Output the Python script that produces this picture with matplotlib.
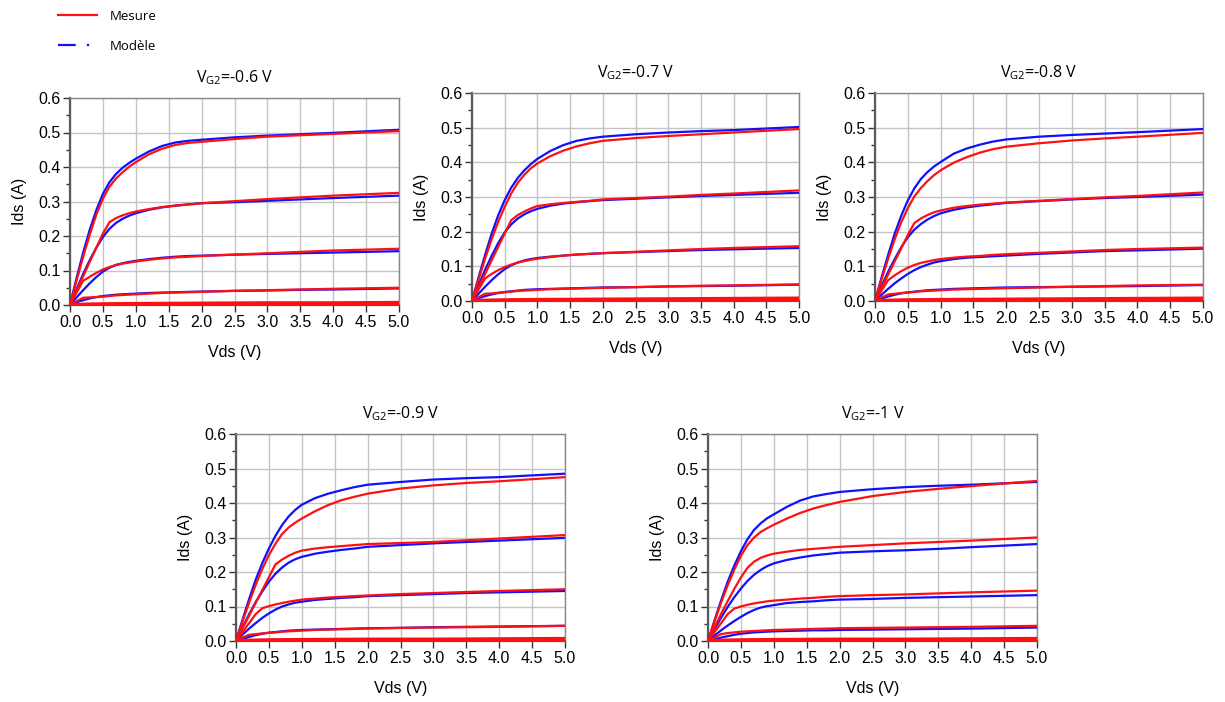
import matplotlib
matplotlib.use("Agg")
import matplotlib.pyplot as plt
from matplotlib.lines import Line2D
from matplotlib.ticker import MultipleLocator

plt.rcParams['font.family'] = ['Liberation Sans', 'DejaVu Sans']
plt.rcParams['mathtext.default'] = 'regular'

# ---------------- data ----------------
vds = [0, 0.1, 0.2, 0.3, 0.4, 0.5, 0.6, 0.7, 0.8, 0.9, 1.0,
       1.2, 1.4, 1.6, 1.8, 2.0, 2.5, 3.0, 3.5, 4.0, 5.0]
vds_small = [0, 0.2, 0.5, 1.0, 2.0, 3.0, 4.0, 5.0]

vg2_labels = ['-0.6', '-0.7', '-0.8', '-0.9', '-1']

# ---- VG2 = -0.6 V ----
meas_p06 = [
    [0, 0.071, 0.14, 0.204, 0.262, 0.308, 0.343, 0.367, 0.385, 0.401, 0.414, 0.437, 0.453, 0.464, 0.47, 0.473, 0.481, 0.488, 0.492, 0.496, 0.504],
    [0, 0.042, 0.083, 0.125, 0.166, 0.207, 0.24, 0.252, 0.26, 0.266, 0.271, 0.278, 0.284, 0.288, 0.291, 0.295, 0.301, 0.307, 0.312, 0.317, 0.325],
    [0, 0.036, 0.07, 0.082, 0.093, 0.103, 0.11, 0.116, 0.12, 0.123, 0.126, 0.131, 0.135, 0.138, 0.14, 0.142, 0.146, 0.150, 0.154, 0.158, 0.163],
    [0, 0.011, 0.021, 0.022, 0.023, 0.024, 0.026, 0.028, 0.029, 0.030, 0.031, 0.033, 0.035, 0.036, 0.037, 0.038, 0.041, 0.043, 0.045, 0.047, 0.050],
]
model_p06 = [
    [0, 0.078, 0.152, 0.218, 0.275, 0.322, 0.356, 0.38, 0.398, 0.412, 0.424, 0.445, 0.461, 0.471, 0.476, 0.479, 0.486, 0.491, 0.495, 0.499, 0.508],
    [0, 0.046, 0.09, 0.13, 0.166, 0.197, 0.221, 0.238, 0.25, 0.259, 0.266, 0.276, 0.283, 0.288, 0.292, 0.295, 0.298, 0.302, 0.306, 0.310, 0.317],
    [0, 0.022, 0.043, 0.063, 0.081, 0.097, 0.108, 0.116, 0.121, 0.125, 0.128, 0.133, 0.137, 0.140, 0.142, 0.143, 0.146, 0.148, 0.150, 0.152, 0.156],
    [0, 0.008, 0.014, 0.019, 0.023, 0.026, 0.028, 0.030, 0.031, 0.032, 0.033, 0.035, 0.036, 0.037, 0.038, 0.039, 0.041, 0.042, 0.044, 0.045, 0.048],
]
meas_small_p06 = [[0, 0.003, 0.004, 0.005, 0.006, 0.007, 0.007, 0.008],
                  [0, 0.001, 0.001, 0.001, 0.001, 0.002, 0.002, 0.002]]
model_small_p06 = [[0, 0.002, 0.003, 0.004, 0.004, 0.005, 0.005, 0.005]]

# ---- VG2 = -0.7 V ----
meas_p07 = [
    [0, 0.062, 0.122, 0.178, 0.228, 0.272, 0.31, 0.341, 0.364, 0.383, 0.397, 0.418, 0.434, 0.446, 0.455, 0.462, 0.470, 0.476, 0.481, 0.486, 0.496],
    [0, 0.039, 0.078, 0.117, 0.156, 0.195, 0.233, 0.248, 0.258, 0.267, 0.274, 0.279, 0.283, 0.286, 0.289, 0.293, 0.297, 0.301, 0.306, 0.310, 0.319],
    [0, 0.033, 0.065, 0.078, 0.089, 0.098, 0.105, 0.111, 0.115, 0.119, 0.122, 0.127, 0.131, 0.134, 0.136, 0.138, 0.142, 0.146, 0.150, 0.153, 0.158],
    [0, 0.011, 0.021, 0.022, 0.024, 0.025, 0.027, 0.029, 0.030, 0.031, 0.032, 0.034, 0.035, 0.036, 0.037, 0.038, 0.040, 0.042, 0.044, 0.045, 0.048],
]
model_p07 = [
    [0, 0.068, 0.133, 0.194, 0.247, 0.291, 0.327, 0.355, 0.377, 0.395, 0.41, 0.433, 0.45, 0.462, 0.469, 0.474, 0.481, 0.486, 0.490, 0.493, 0.502],
    [0, 0.046, 0.09, 0.13, 0.167, 0.198, 0.221, 0.238, 0.25, 0.259, 0.266, 0.275, 0.281, 0.285, 0.288, 0.291, 0.295, 0.299, 0.303, 0.306, 0.312],
    [0, 0.021, 0.041, 0.06, 0.077, 0.092, 0.103, 0.111, 0.117, 0.121, 0.124, 0.128, 0.131, 0.134, 0.136, 0.138, 0.141, 0.144, 0.147, 0.149, 0.153],
    [0, 0.008, 0.014, 0.019, 0.023, 0.026, 0.028, 0.030, 0.032, 0.033, 0.034, 0.035, 0.036, 0.037, 0.038, 0.039, 0.040, 0.042, 0.043, 0.044, 0.047],
]
meas_small_p07 = [[0, 0.003, 0.004, 0.005, 0.006, 0.007, 0.008, 0.009],
                  [0, 0.001, 0.001, 0.001, 0.001, 0.002, 0.002, 0.002]]
model_small_p07 = [[0, 0.002, 0.003, 0.004, 0.004, 0.005, 0.005, 0.005]]

# ---- VG2 = -0.8 V ----
meas_p08 = [
    [0, 0.062, 0.122, 0.178, 0.227, 0.268, 0.302, 0.326, 0.346, 0.363, 0.377, 0.399, 0.415, 0.428, 0.438, 0.445, 0.455, 0.463, 0.469, 0.474, 0.485],
    [0, 0.038, 0.076, 0.114, 0.152, 0.19, 0.225, 0.238, 0.248, 0.256, 0.261, 0.269, 0.274, 0.278, 0.281, 0.284, 0.289, 0.294, 0.299, 0.303, 0.313],
    [0, 0.03, 0.06, 0.074, 0.086, 0.096, 0.104, 0.11, 0.114, 0.118, 0.121, 0.125, 0.128, 0.13, 0.133, 0.135, 0.139, 0.143, 0.147, 0.150, 0.154],
    [0, 0.01, 0.019, 0.021, 0.023, 0.024, 0.026, 0.028, 0.029, 0.030, 0.031, 0.033, 0.034, 0.035, 0.036, 0.037, 0.039, 0.041, 0.043, 0.045, 0.047],
]
model_p08 = [
    [0, 0.068, 0.133, 0.194, 0.246, 0.29, 0.325, 0.352, 0.372, 0.388, 0.401, 0.425, 0.44, 0.451, 0.46, 0.466, 0.474, 0.479, 0.483, 0.487, 0.496],
    [0, 0.043, 0.084, 0.121, 0.155, 0.184, 0.206, 0.222, 0.235, 0.245, 0.253, 0.263, 0.27, 0.275, 0.279, 0.283, 0.288, 0.293, 0.297, 0.300, 0.307],
    [0, 0.018, 0.035, 0.051, 0.065, 0.078, 0.089, 0.098, 0.105, 0.111, 0.115, 0.121, 0.125, 0.127, 0.129, 0.131, 0.136, 0.140, 0.144, 0.146, 0.151],
    [0, 0.007, 0.013, 0.018, 0.022, 0.025, 0.027, 0.029, 0.031, 0.032, 0.033, 0.035, 0.036, 0.037, 0.038, 0.039, 0.040, 0.041, 0.042, 0.043, 0.046],
]
meas_small_p08 = [[0, 0.003, 0.004, 0.005, 0.006, 0.007, 0.008, 0.009],
                  [0, 0.001, 0.001, 0.001, 0.001, 0.002, 0.002, 0.002]]
model_small_p08 = [[0, 0.002, 0.003, 0.004, 0.004, 0.005, 0.005, 0.005]]

# ---- VG2 = -0.9 V ----
meas_p09 = [
    [0, 0.057, 0.112, 0.163, 0.209, 0.249, 0.282, 0.31, 0.329, 0.343, 0.355, 0.376, 0.394, 0.408, 0.418, 0.427, 0.442, 0.451, 0.458, 0.463, 0.475],
    [0, 0.037, 0.074, 0.111, 0.148, 0.185, 0.222, 0.236, 0.247, 0.256, 0.262, 0.268, 0.272, 0.275, 0.278, 0.281, 0.284, 0.287, 0.292, 0.297, 0.307],
    [0, 0.026, 0.052, 0.078, 0.095, 0.101, 0.106, 0.11, 0.114, 0.117, 0.12, 0.123, 0.126, 0.128, 0.130, 0.132, 0.136, 0.139, 0.142, 0.145, 0.150],
    [0, 0.01, 0.018, 0.02, 0.022, 0.024, 0.025, 0.027, 0.028, 0.029, 0.030, 0.032, 0.033, 0.034, 0.035, 0.036, 0.038, 0.039, 0.040, 0.041, 0.044],
]
model_p09 = [
    [0, 0.062, 0.122, 0.178, 0.226, 0.268, 0.305, 0.336, 0.361, 0.38, 0.395, 0.414, 0.427, 0.437, 0.446, 0.453, 0.461, 0.468, 0.472, 0.475, 0.485],
    [0, 0.04, 0.078, 0.113, 0.144, 0.172, 0.195, 0.213, 0.227, 0.237, 0.244, 0.253, 0.259, 0.264, 0.268, 0.273, 0.278, 0.283, 0.287, 0.291, 0.299],
    [0, 0.019, 0.036, 0.052, 0.067, 0.08, 0.091, 0.1, 0.106, 0.111, 0.114, 0.119, 0.122, 0.125, 0.127, 0.13, 0.133, 0.136, 0.139, 0.141, 0.145],
    [0, 0.006, 0.012, 0.017, 0.021, 0.024, 0.026, 0.028, 0.030, 0.031, 0.032, 0.033, 0.034, 0.035, 0.036, 0.037, 0.038, 0.040, 0.041, 0.042, 0.044],
]
meas_small_p09 = [[0, 0.003, 0.004, 0.005, 0.006, 0.006, 0.007, 0.008],
                  [0, 0.001, 0.001, 0.001, 0.001, 0.002, 0.002, 0.002]]
model_small_p09 = [[0, 0.002, 0.003, 0.004, 0.004, 0.005, 0.005, 0.005]]

# ---- VG2 = -1 V ----
meas_p10 = [
    [0, 0.057, 0.112, 0.162, 0.207, 0.247, 0.278, 0.300, 0.316, 0.327, 0.337, 0.355, 0.371, 0.384, 0.394, 0.403, 0.42, 0.432, 0.441, 0.449, 0.464],
    [0, 0.04, 0.079, 0.116, 0.151, 0.184, 0.212, 0.23, 0.241, 0.248, 0.253, 0.259, 0.264, 0.267, 0.27, 0.273, 0.278, 0.283, 0.287, 0.291, 0.300],
    [0, 0.026, 0.052, 0.078, 0.094, 0.1, 0.105, 0.109, 0.112, 0.115, 0.117, 0.12, 0.123, 0.125, 0.128, 0.13, 0.133, 0.135, 0.138, 0.141, 0.146],
    [0, 0.01, 0.02, 0.023, 0.025, 0.027, 0.028, 0.029, 0.030, 0.031, 0.032, 0.033, 0.034, 0.035, 0.036, 0.037, 0.038, 0.039, 0.040, 0.041, 0.044],
]
model_p10 = [
    [0, 0.06, 0.118, 0.172, 0.219, 0.26, 0.295, 0.322, 0.341, 0.356, 0.367, 0.389, 0.407, 0.419, 0.426, 0.432, 0.44, 0.446, 0.45, 0.453, 0.461],
    [0, 0.035, 0.068, 0.099, 0.127, 0.152, 0.174, 0.192, 0.206, 0.217, 0.225, 0.235, 0.242, 0.248, 0.252, 0.256, 0.26, 0.263, 0.267, 0.272, 0.281],
    [0, 0.016, 0.031, 0.045, 0.058, 0.07, 0.081, 0.09, 0.097, 0.101, 0.104, 0.11, 0.113, 0.115, 0.118, 0.12, 0.122, 0.125, 0.127, 0.129, 0.133],
    [0, 0.005, 0.01, 0.014, 0.018, 0.021, 0.023, 0.025, 0.026, 0.027, 0.028, 0.029, 0.030, 0.031, 0.031, 0.032, 0.033, 0.034, 0.035, 0.036, 0.039],
]
meas_small_p10 = [[0, 0.003, 0.004, 0.005, 0.006, 0.006, 0.007, 0.008],
                  [0, 0.001, 0.001, 0.001, 0.001, 0.002, 0.002, 0.002]]
model_small_p10 = [[0, 0.002, 0.003, 0.004, 0.004, 0.005, 0.005, 0.005]]

meas_all = [meas_p06, meas_p07, meas_p08, meas_p09, meas_p10]
model_all = [model_p06, model_p07, model_p08, model_p09, model_p10]
meas_small_all = [meas_small_p06, meas_small_p07, meas_small_p08, meas_small_p09, meas_small_p10]
model_small_all = [model_small_p06, model_small_p07, model_small_p08, model_small_p09, model_small_p10]

x_ticks = [0.0, 0.5, 1.0, 1.5, 2.0, 2.5, 3.0, 3.5, 4.0, 4.5, 5.0]
y_ticks = [0.0, 0.1, 0.2, 0.3, 0.4, 0.5, 0.6]

# ---------------- layout ----------------
W, H = 1225, 702
fig = plt.figure(figsize=(W / 100, H / 100), dpi=100)

# axes boxes in pixels: (left, top, right, bottom)
boxes = [
    (70, 98, 399, 305),
    (472, 93, 799, 301),
    (875, 93, 1203, 301),
    (236, 434, 565, 641),
    (708, 434, 1037, 641),
]

RED = '#ff1010'
BLUE = '#1010ff'
spine_col = '#5a5a5a'

for i, box in enumerate(boxes):
    l, t, r, b = box
    ax = fig.add_axes([l / W, 1 - b / H, (r - l) / W, (b - t) / H])
    for c in model_all[i]:
        ax.plot(vds, c, color=BLUE, lw=1.6, solid_joinstyle='round', zorder=3)
    for c in model_small_all[i]:
        ax.plot(vds_small, c, color=BLUE, lw=1.6, zorder=3)
    for c in meas_all[i]:
        ax.plot(vds, c, color=RED, lw=1.6, solid_joinstyle='round', zorder=4)
    for c in meas_small_all[i]:
        ax.plot(vds_small, c, color=RED, lw=2.0, zorder=4)
    ax.set_xlim(0, 5)
    ax.set_ylim(0, 0.6)
    ax.set_xticks(x_ticks)
    ax.set_xticklabels([f'{v:.1f}' for v in x_ticks])
    ax.set_yticks(y_ticks)
    ax.set_yticklabels([f'{v:.1f}' for v in y_ticks])
    ax.yaxis.set_minor_locator(MultipleLocator(0.05))
    ax.grid(True, which='major', color='#c4c4c4', lw=1.0, zorder=0)
    ax.set_axisbelow(True)
    ax.tick_params(axis='both', which='major', direction='out', length=5,
                   width=1, color='#333333', labelsize=11.5, pad=2)
    ax.tick_params(axis='y', which='minor', direction='out', length=3,
                   width=1, color='#333333')
    for side in ['top', 'right']:
        ax.spines[side].set_color('#888888')
        ax.spines[side].set_linewidth(1.0)
    for side in ['left', 'bottom']:
        ax.spines[side].set_color(spine_col)
        ax.spines[side].set_linewidth(1.6)
    ax.set_xlabel('Vds (V)', fontsize=11.5, labelpad=11)
    ax.set_ylabel('Ids (A)', fontsize=11.5, labelpad=8)
    ax.set_title(r'V$_{G2}$=' + vg2_labels[i] + ' V', fontsize=11.5,
                 family=['Open Sans', 'DejaVu Sans'], pad=11)

# legend
handles = [
    Line2D([], [], color=RED, lw=1.6),
    Line2D([], [], color=BLUE, lw=1.6, linestyle=(0, (8, 5, 1, 5))),
]
fig.legend(handles, ['Mesure', 'Modèle'], loc='upper left',
           bbox_to_anchor=(0.038, 1.003), frameon=False, handlelength=2.9,
           labelspacing=1.3, handletextpad=1.0,
           prop={'family': ['Open Sans', 'DejaVu Sans'], 'size': 9.5})

fig.savefig('out.png', dpi=100)
